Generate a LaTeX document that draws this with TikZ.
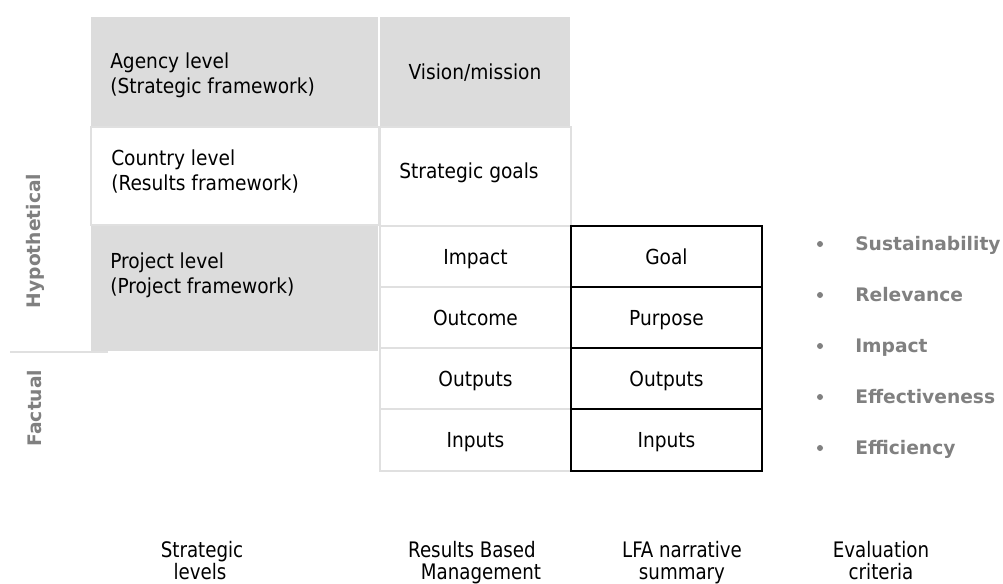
\documentclass[tikz,border=0pt]{standalone}
\usepackage{fontspec}
\setmainfont{DejaVu Sans Condensed}
\newfontfamily\sidefont{DejaVu Sans}
\newfontfamily\narrowfont{DejaVu Sans Condensed}[FakeStretch=0.95]
\definecolor{cellgray}{HTML}{DCDCDC}
\definecolor{rulegray}{HTML}{E0E0E0}
\definecolor{textgray}{HTML}{808080}
\tikzset{
  cell/.style={rectangle, anchor=north west, inner sep=0pt, outer sep=0pt,
    minimum width=#1*0.75pt},
  shaded/.style={fill=cellgray},
  softcell/.style={draw=rulegray, line width=1.5pt, fill=white},
  lfacell/.style={draw=black, line width=1.1pt, fill=white},
  celltext/.style={font=\fontsize{15.5pt}{18pt}\selectfont, inner sep=0pt,
    text height=11.3pt, text depth=0pt},
  levtext/.style={font=\fontsize{15.5pt}{18pt}\selectfont, inner sep=0pt, anchor=base west},
  foot/.style={font=\narrowfont\fontsize{16pt}{18pt}\selectfont, inner sep=0pt, anchor=base},
  crit/.style={font=\sidefont\bfseries\fontsize{14pt}{16pt}\selectfont, text=textgray,
    inner sep=0pt, anchor=west, text height=10.2pt, text depth=0pt},
  dot/.style={circle, fill=textgray, inner sep=0pt, minimum size=4.5pt},
  side/.style={font=\sidefont\bfseries\fontsize{14pt}{16pt}\selectfont, text=textgray,
    inner sep=0pt, rotate=90},
}
\begin{document}
\begin{tikzpicture}[x=0.75pt, y=-0.75pt]
\useasboundingbox (0,0) rectangle (1003,583);

% strategic levels column
\node[cell=287, minimum height=110*0.75pt, shaded] (agency) at (91,17) {};
\node[cell=287, minimum height=126*0.75pt, shaded] (project) at (91,225) {};
\node[cell=288, minimum height=98*0.75pt, softcell] (country) at (91,127) {};

\node[levtext] (agency1) at (110,68) {Agency level};
\node[levtext] (agency2) at (110,93) {(Strategic framework)};
\node[levtext] (country1) at (111,165) {Country level};
\node[levtext] (country2) at (111,190) {(Results framework)};
\node[levtext] (project1) at (110,268) {Project level};
\node[levtext] (project2) at (110,293) {(Project framework)};

% results based management column
\node[cell=190, minimum height=110*0.75pt, shaded, celltext] (vision) at (380,17) {Vision/mission};
\node[cell=191, minimum height=99*0.75pt, softcell] (goals) at (380,127) {};
\node[celltext] (goalstext) at (469,171) {Strategic goals};
\node[cell=191, minimum height=61*0.75pt, softcell, celltext] (rimpact) at (380,226) {Impact};
\node[cell=191, minimum height=61*0.75pt, softcell, celltext] (routcome) at (380,287) {Outcome};
\node[cell=191, minimum height=61*0.75pt, softcell, celltext] (routputs) at (380,348) {Outputs};
\node[cell=191, minimum height=62*0.75pt, softcell, celltext] (rinputs) at (380,409) {Inputs};

% LFA narrative summary column
\node[cell=191, minimum height=61*0.75pt, lfacell, celltext] (lgoal) at (571,226) {Goal};
\node[cell=191, minimum height=61*0.75pt, lfacell, celltext] (lpurpose) at (571,287) {Purpose};
\node[cell=191, minimum height=61*0.75pt, lfacell, celltext] (loutputs) at (571,348) {Outputs};
\node[cell=191, minimum height=62*0.75pt, lfacell, celltext] (linputs) at (571,409) {Inputs};

% hypothetical / factual divide
\coordinate (divL) at (10,352);
\coordinate (divR) at (108,352);
\draw[rulegray, line width=1.5pt] (divL) -- (divR);
\node[side] (hypo) at (35,241) {Hypothetical};
\node[side] (fact) at (35,408) {Factual};

% evaluation criteria
\foreach \t/\yy/\n in {Sustainability/244/1, Relevance/295/2, Impact/346/3,
                       Effectiveness/397/4, Efficiency/448/5}{
  \node[dot] (bul\n) at (820,\yy) {};
  \node[crit] (crit\n) at (855,\yy) {\t};
}

% column captions
\node[foot] (capA1) at (202,557) {Strategic};
\node[foot] (capA2) at (200,579) {levels};
\node[foot] (capB1) at (472,557) {Results Based};
\node[foot] (capB2) at (481,579) {Management};
\node[foot] (capC1) at (682,557) {LFA narrative};
\node[foot] (capC2) at (682,579) {summary};
\node[foot] (capD1) at (881,557) {Evaluation};
\node[foot] (capD2) at (881,579) {criteria};
\end{tikzpicture}
\end{document}
